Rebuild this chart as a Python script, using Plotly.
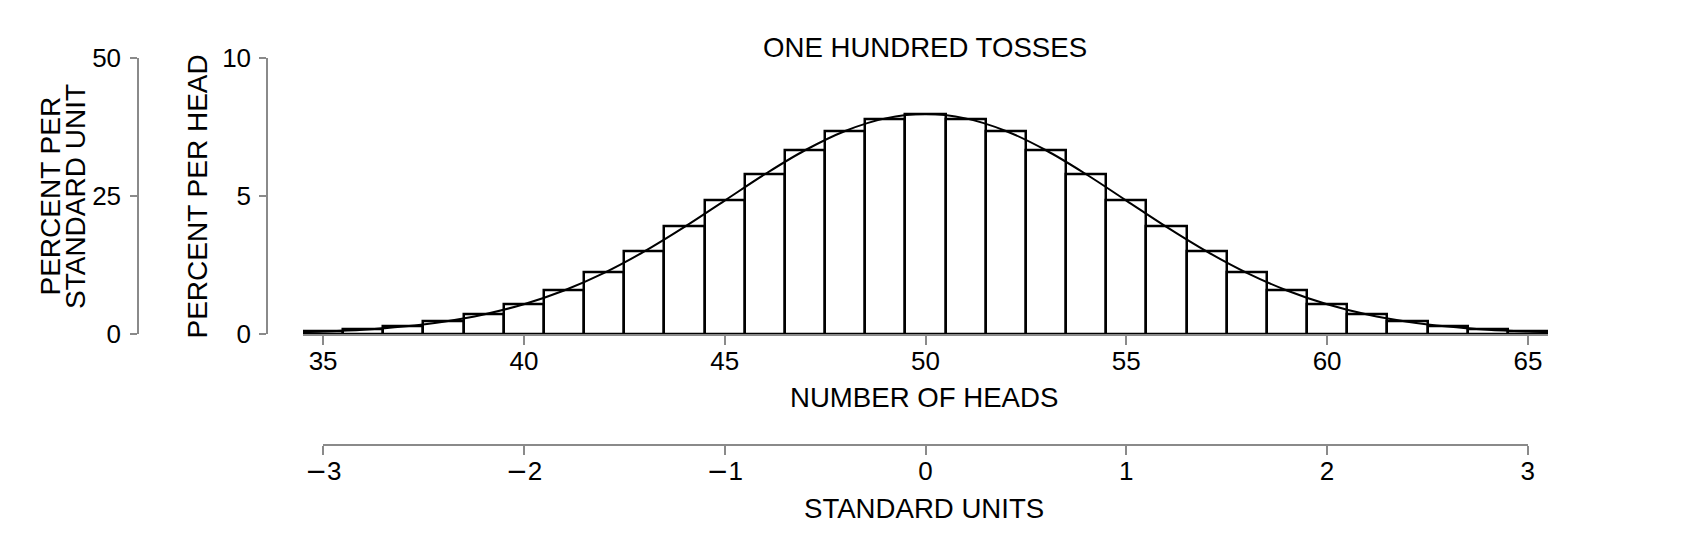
import plotly.graph_objects as go

# Number of heads in 100 tosses and the probability histogram (percent per head)
heads = [35, 36, 37, 38, 39, 40, 41, 42, 43, 44, 45, 46, 47, 48, 49, 50,
         51, 52, 53, 54, 55, 56, 57, 58, 59, 60, 61, 62, 63, 64, 65]
percent_per_head = [0.09, 0.16, 0.27, 0.45, 0.71, 1.08, 1.59, 2.23, 3.01, 3.90, 4.85, 5.80, 6.66, 7.35, 7.80, 7.96,
                    7.80, 7.35, 6.66, 5.80, 4.85, 3.90, 3.01, 2.23, 1.59, 1.08, 0.71, 0.45, 0.27, 0.16, 0.09]

# Normal curve (percent per head) read at these head counts
curve_x = [34.5, 35, 36, 37, 38, 39, 40, 41, 42, 43, 44, 45, 46, 47, 48, 49, 50,
           51, 52, 53, 54, 55, 56, 57, 58, 59, 60, 61, 62, 63, 64, 65, 65.5]
curve_y = [0.065, 0.089, 0.158, 0.272, 0.448, 0.710, 1.080, 1.579, 2.218, 2.995, 3.884, 4.839, 5.794, 6.665, 7.365, 7.821, 7.979,
           7.821, 7.365, 6.665, 5.794, 4.839, 3.884, 2.995, 2.218, 1.579, 1.080, 0.710, 0.448, 0.272, 0.158, 0.089, 0.065]

head_ticks = [35, 40, 45, 50, 55, 60, 65]
su_ticks = [-3, -2, -1, 0, 1, 2, 3]
MINUS = '<span style="font-family:DejaVu Sans">\u2212</span>'
su_ticktext = [MINUS + "3", MINUS + "2", MINUS + "1", "0", "1", "2", "3"]
pph_ticks = [0, 5, 10]
psu_ticks = [0, 25, 50]

OFF = 8  # page body margin
W, H = 1701 - 2 * OFF, 560 - 2 * OFF
FONT = "Liberation Sans, Arial, Helvetica, sans-serif"
FS = 26
AX = "#8a8a8a"

def px(x):
    return (x - OFF) / W

def py(y):
    return (H - (y - OFF)) / H

fig = go.Figure()
fig.add_trace(go.Bar(x=heads, y=percent_per_head, width=1,
                     marker=dict(color="white", line=dict(color="black", width=2.5)),
                     xaxis="x", yaxis="y", hoverinfo="x+y"))
fig.add_trace(go.Scatter(x=curve_x, y=curve_y, mode="lines", line=dict(color="black", width=2, shape="spline"),
                         xaxis="x", yaxis="y", hoverinfo="skip"))
# invisible trace to carry the standard-unit axes
fig.add_trace(go.Scatter(x=[su_ticks[0], su_ticks[-1]], y=[psu_ticks[0], psu_ticks[-1]], mode="markers",
                         marker=dict(opacity=0), xaxis="x2", yaxis="y2", hoverinfo="skip"))

ydom = [py(334), py(58.3)]
common_tick = dict(ticks="outside", tickcolor=AX, tickwidth=1.5, showgrid=False, zeroline=False,
                   showline=True, linecolor=AX, linewidth=1.5, automargin=False,
                   tickfont=dict(family=FONT, size=FS, color="black"))

fig.update_layout(
    width=W, height=H, margin=dict(l=0, r=0, t=0, b=0, pad=0), autosize=False,
    paper_bgcolor="white", plot_bgcolor="rgba(0,0,0,0)", showlegend=False, bargap=0,
    xaxis=dict(domain=[px(303), px(1548)], range=[34.5, 65.5], anchor="y",
               tickvals=head_ticks, ticklen=9, ticklabelstandoff=-6, **common_tick),
    yaxis=dict(domain=ydom, range=[0, 10], anchor="free", position=px(267),
               tickvals=pph_ticks, ticklen=7, ticklabelstandoff=3, **common_tick),
    xaxis2=dict(domain=[px(323.3), px(1527.7)], range=[-3, 3], anchor="free", position=py(445),
                tickvals=su_ticks, ticktext=su_ticktext, ticklen=9, ticklabelstandoff=-6, **common_tick),
    yaxis2=dict(domain=ydom, range=[0, 50], anchor="free", position=px(138),
                tickvals=psu_ticks, ticklen=7, ticklabelstandoff=4, **common_tick),
)

def label(text, x, y, angle=0, size=27.6):
    fig.add_annotation(text=text, x=px(x), y=py(y), xref="paper", yref="paper",
                       showarrow=False, textangle=angle, xanchor="center", yanchor="middle",
                       font=dict(family=FONT, size=size, color="black"))

label("ONE HUNDRED TOSSES", 925, 48)
label("NUMBER OF HEADS", 924, 397)
label("STANDARD UNITS", 924, 508)
label("PERCENT PER HEAD", 197, 196.5, -90, 28)
label("PERCENT PER", 50, 196.5, -90, 28)
label("STANDARD UNIT", 75.5, 196.5, -90, 28)

fig.write_html("out.html")
